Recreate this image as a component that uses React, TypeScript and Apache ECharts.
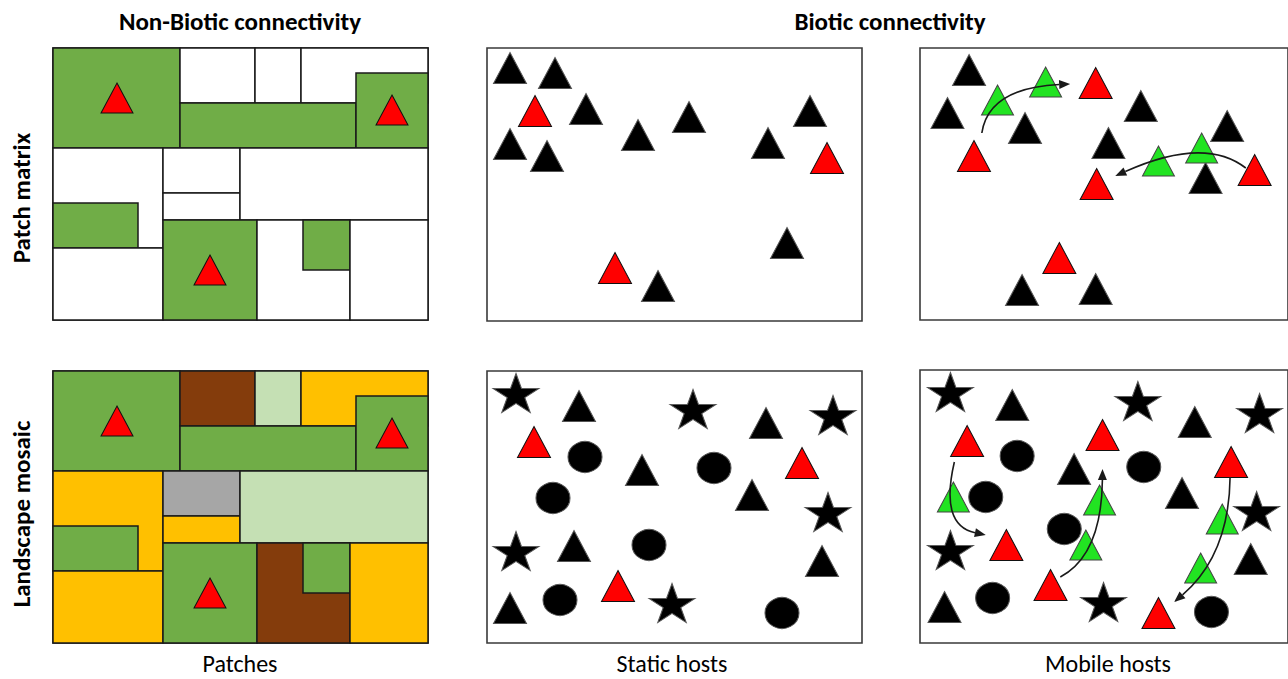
import React, { useEffect, useRef } from "react";
import * as echarts from "echarts";

// ---------- DATA (panel-local units: x 0..375 left→right, y 0..272 top→bottom) ----------
const panelTitlesTop = ["Non-Biotic connectivity", "Biotic connectivity"];
const rowLabels = ["Patch matrix", "Landscape mosaic"];
const columnLabels = ["Patches", "Static hosts", "Mobile hosts"];

// patch rectangles [x0, y0, x1, y1] (later ones overlay earlier ones)
const patchRects = [
  [0, 0, 127, 100],
  [127, 0, 202, 55],
  [202, 0, 248, 55],
  [248, 0, 375, 55],
  [127, 55, 303, 100],
  [303, 25, 375, 100],
  [0, 100, 110, 200],
  [0, 155, 85, 200],
  [110, 100, 187, 145],
  [110, 145, 187, 172],
  [187, 100, 375, 172],
  [0, 200, 110, 272],
  [110, 172, 204, 272],
  [204, 172, 297, 272],
  [250, 172, 297, 222],
  [297, 172, 375, 272],
];
const matrixTypes = [
  "habitat", "matrix", "matrix", "matrix", "habitat", "habitat", "matrix", "habitat",
  "matrix", "matrix", "matrix", "matrix", "habitat", "matrix", "habitat", "matrix",
];
const mosaicTypes = [
  "habitat", "bare", "grass", "crop", "habitat", "habitat", "crop", "habitat",
  "urban", "crop", "grass", "crop", "habitat", "bare", "habitat", "crop",
];
const patchHosts = [[64, 50], [339, 62], [157, 222]];

// Static hosts, patch matrix
const staticMatrixBlack = [
  [23, 20], [68, 25], [99, 61], [23, 96], [60, 108], [151, 87],
  [202, 69], [323, 63], [281, 95], [300, 195], [171, 238],
];
const staticMatrixRed = [[48, 63], [340, 110], [128, 220]];

// Mobile hosts, patch matrix
const mobileMatrixBlack = [
  [50, 22], [28, 65], [107, 80], [225, 58], [192, 95], [313, 78],
  [291, 130], [104, 242], [179, 241],
];
const mobileMatrixRed = [[179, 35], [55, 108], [180, 136], [341, 122], [142, 210]];
const mobileMatrixGreen = [[79, 52], [128, 34], [243, 113], [287, 100]];
// movement curves [x0, y0, ctrlX, ctrlY, x1, y1]
const mobileMatrixPaths = [
  [63, 85, 70, 40, 153, 36],
  [332, 120, 290, 88, 199, 128],
];

// Static hosts, landscape mosaic
const staticMosaicStars = [[29, 22], [206, 38], [346, 44], [341, 141], [29, 180], [185, 232]];
const staticMosaicBlack = [[92, 35], [279, 52], [155, 99], [265, 124], [87, 175], [335, 190], [23, 237]];
const staticMosaicRed = [[47, 71], [315, 92], [131, 215]];
const staticMosaicCircles = [[98, 86], [66, 127], [227, 97], [162, 174], [73, 229], [295, 242]];

// Mobile hosts, landscape mosaic
const mobileMosaicStars = [[31, 22], [222, 31], [346, 43], [343, 141], [31, 180], [187, 232]];
const mobileMosaicBlack = [[94, 35], [280, 52], [157, 99], [267, 123], [337, 189], [25, 237]];
const mobileMosaicRed = [[48, 71], [186, 65], [317, 92], [88, 175], [133, 215], [243, 243]];
const mobileMosaicGreen = [[34, 127], [183, 130], [169, 175], [308, 149], [286, 198]];
const mobileMosaicCircles = [[99, 86], [67, 127], [228, 97], [147, 159], [74, 228], [297, 242]];
const mobileMosaicPaths = [
  [35, 92, 20, 155, 67, 165],
  [143, 207, 185, 185, 186, 99],
  [316, 107, 315, 185, 259, 232],
];

// ---------- STYLE ----------
const typeColor: Record<string, string> = {
  habitat: "#70AD47",
  matrix: "#FFFFFF",
  bare: "#843C0C",
  grass: "#C5E0B4",
  crop: "#FFC000",
  urban: "#A6A6A6",
};
const RED = "#FF0000";
const GREEN = "#22E322";
const FONT = "Carlito, Lato, 'Open Sans', sans-serif";
const STAR =
  "path://M50,0 L61.8,35.4 L100,35.4 L69.1,57.3 L80.9,92.7 L50,70.8 L19.1,92.7 L30.9,57.3 L0,35.4 L38.2,35.4 Z";
const TRI_SIZE = [33, 31];

const grids = [
  { left: 53, top: 48, width: 375, height: 272 },
  { left: 487, top: 48, width: 375, height: 273 },
  { left: 920, top: 48, width: 375, height: 272 },
  { left: 53, top: 371, width: 375, height: 272 },
  { left: 487, top: 371, width: 375, height: 272 },
  { left: 920, top: 370, width: 375, height: 273 },
];

function rectSeries(idx: number, types: string[]) {
  return {
    type: "custom",
    xAxisIndex: idx,
    yAxisIndex: idx,
    silent: true,
    z: 2,
    data: patchRects,
    renderItem: (params: any, api: any) => {
      const p0 = api.coord([api.value(0), api.value(1)]);
      const p1 = api.coord([api.value(2), api.value(3)]);
      return {
        type: "rect",
        shape: {
          x: Math.min(p0[0], p1[0]),
          y: Math.min(p0[1], p1[1]),
          width: Math.abs(p1[0] - p0[0]),
          height: Math.abs(p1[1] - p0[1]),
        },
        style: { fill: typeColor[types[params.dataIndex]], stroke: "#1a1a1a", lineWidth: 1.5 },
      };
    },
  };
}

function pathSeries(idx: number, data: number[][]) {
  return {
    type: "custom",
    xAxisIndex: idx,
    yAxisIndex: idx,
    silent: true,
    z: 10,
    data,
    renderItem: (params: any, api: any) => {
      const a = api.coord([api.value(0), api.value(1)]);
      const c = api.coord([api.value(2), api.value(3)]);
      const b = api.coord([api.value(4), api.value(5)]);
      const dx = b[0] - c[0];
      const dy = b[1] - c[1];
      const len = Math.sqrt(dx * dx + dy * dy) || 1;
      const ux = dx / len, uy = dy / len;
      const L = 11, W = 4.5;
      const base = [b[0] - ux * L, b[1] - uy * L];
      return {
        type: "group",
        children: [
          {
            type: "bezierCurve",
            shape: { x1: a[0], y1: a[1], cpx1: c[0], cpy1: c[1], x2: base[0], y2: base[1] },
            style: { stroke: "#1a1a1a", lineWidth: 1.6, fill: null },
          },
          {
            type: "polygon",
            shape: {
              points: [
                [b[0], b[1]],
                [base[0] - uy * W, base[1] + ux * W],
                [base[0] + uy * W, base[1] - ux * W],
              ],
            },
            style: { fill: "#1a1a1a" },
          },
        ],
      };
    },
  };
}

function sym(idx: number, data: number[][], symbol: string, size: number[], color: string, border: string, z = 5) {
  return {
    type: "scatter",
    xAxisIndex: idx,
    yAxisIndex: idx,
    silent: true,
    z,
    data,
    symbol,
    symbolSize: size,
    itemStyle: { color, borderColor: border, borderWidth: 1, opacity: 1 },
    emphasis: { disabled: true },
  };
}

function label(text: string, x: number, y: number, bold: boolean, size: number, rotation = 0) {
  return {
    type: "text",
    x,
    y,
    rotation,
    style: {
      text,
      font: `${bold ? "bold " : ""}${size}px ${FONT}`,
      fill: "#000",
      align: "center",
      verticalAlign: "middle",
    },
  };
}

export default function App() {
  const ref = useRef<HTMLDivElement>(null);
  useEffect(() => {
    if (!ref.current) return;
    const chart = echarts.init(ref.current, undefined, { renderer: "svg" });
    const option: any = {
      animation: false,
      grid: grids.map((g, i) => ({
        ...g,
        show: true,
        borderColor: i === 0 || i === 3 ? "#1a1a1a" : "#3a3a3a",
        borderWidth: 1.6,
        backgroundColor: "#fff",
        z: 0,
      })),
      xAxis: grids.map((g, i) => ({ type: "value", gridIndex: i, min: 0, max: 375, show: false })),
      yAxis: grids.map((g, i) => ({
        type: "value", gridIndex: i, min: 0, max: g.height, inverse: true, show: false,
      })),
      series: [
        rectSeries(0, matrixTypes),
        sym(0, patchHosts, "triangle", [32, 30], RED, "#111"),
        rectSeries(3, mosaicTypes),
        sym(3, patchHosts, "triangle", [32, 30], RED, "#111"),

        sym(1, staticMatrixBlack, "triangle", TRI_SIZE, "#000", "#555"),
        sym(1, staticMatrixRed, "triangle", TRI_SIZE, RED, "#111"),

        sym(2, mobileMatrixBlack, "triangle", TRI_SIZE, "#000", "#555"),
        sym(2, mobileMatrixRed, "triangle", TRI_SIZE, RED, "#111"),
        sym(2, mobileMatrixGreen, "triangle", [32, 30], GREEN, "#444", 6),
        pathSeries(2, mobileMatrixPaths),

        sym(4, staticMosaicStars, STAR, [46, 39], "#000", "#555"),
        sym(4, staticMosaicBlack, "triangle", TRI_SIZE, "#000", "#555"),
        sym(4, staticMosaicRed, "triangle", TRI_SIZE, RED, "#111"),
        sym(4, staticMosaicCircles, "circle", [34, 31], "#000", "#555"),

        sym(5, mobileMosaicStars, STAR, [46, 39], "#000", "#555"),
        sym(5, mobileMosaicBlack, "triangle", TRI_SIZE, "#000", "#555"),
        sym(5, mobileMosaicRed, "triangle", TRI_SIZE, RED, "#111"),
        sym(5, mobileMosaicCircles, "circle", [34, 31], "#000", "#555"),
        sym(5, mobileMosaicGreen, "triangle", [32, 30], GREEN, "#444", 6),
        pathSeries(5, mobileMosaicPaths),
      ],
      graphic: [
        label(panelTitlesTop[0], 240, 21, true, 25),
        label(panelTitlesTop[1], 890, 21, true, 25),
        label(rowLabels[0], 21, 198, true, 25, Math.PI / 2),
        label(rowLabels[1], 21, 514, true, 25, Math.PI / 2),
        label(columnLabels[0], 240, 663, false, 24),
        label(columnLabels[1], 672, 663, false, 24),
        label(columnLabels[2], 1108, 663, false, 24),
      ],
    };
    chart.setOption(option);
    return () => chart.dispose();
  }, []);
  return (
    <div
      ref={ref}
      style={{ position: "absolute", left: 0, top: 0, width: 1288, height: 679, background: "#fff" }}
    />
  );
}
